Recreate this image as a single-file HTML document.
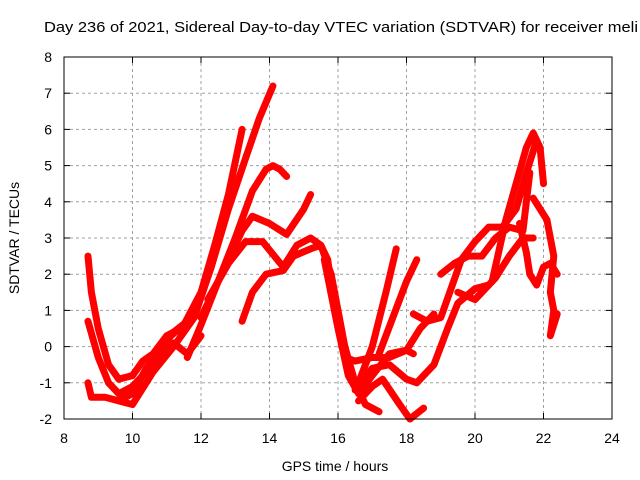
<!DOCTYPE html>
<html><head><meta charset="utf-8"><style>
body{margin:0;background:#fff;}
svg{display:block;font-family:"Liberation Sans",sans-serif;}
</style></head><body>
<svg id="chart" width="640" height="480" viewBox="0 0 640 480">
<rect width="640" height="480" fill="#fff"/>
<text x="44" y="32" font-size="15" textLength="594" lengthAdjust="spacingAndGlyphs">Day 236 of 2021, Sidereal Day-to-day VTEC variation (SDTVAR) for receiver meli</text>
<text x="335" y="471" font-size="14" text-anchor="middle">GPS time / hours</text>
<text x="0" y="0" font-size="14" text-anchor="middle" transform="translate(19,238) rotate(-90)">SDTVAR / TECUs</text>
<g id="grid"></g>
<g id="ticks"></g>
<g id="series"></g>
<rect x="64" y="57" width="548" height="362" fill="none" stroke="#000" stroke-width="1"/>
</svg>
<script>
const xTicks=[8,10,12,14,16,18,20,22,24];
const yTicks=[-2,-1,0,1,2,3,4,5,6,7,8];
const trackA=[[9.6,-1.5],[10,-1.6],[10.6,-0.7],[11.2,0],[11.8,0.8],[12.3,2.2],[12.8,3.8],[13.3,5.2],[13.7,6.3],[14.1,7.2]];
const trackB=[[10.5,-0.5],[11,0.2],[11.5,0.6],[12,1.5],[12.4,2.8],[12.8,4.2],[13.2,6.0]];
const trackC=[[11.6,-0.3],[12,0.6],[12.5,1.8],[13,3],[13.5,4.3],[13.9,4.9],[14.1,5.0],[14.3,4.9],[14.5,4.7]];
const trackD=[[12,0.8],[12.6,2],[13.2,3.2],[13.5,3.6],[14,3.4],[14.5,3.1],[15.0,3.8],[15.2,4.2]];
const trackE=[[12.2,1.3],[12.8,2.3],[13.3,2.9],[13.8,2.9],[14.4,2.2],[14.8,2.8],[15.2,3.0],[15.5,2.8],[15.8,2.0],[16.2,0],[16.5,-1.0],[16.8,-1.6],[17.2,-1.8]];
const trackF=[[13.2,0.7],[13.5,1.5],[13.9,2.0],[14.4,2.1],[14.7,2.5],[15.2,2.7],[15.5,2.8],[15.7,2.4],[15.9,1],[16.2,-0.3],[16.5,-0.4],[17,-0.3],[17.5,-0.3],[18,-0.1],[18.2,-0.2]];
const trackG=[[15.6,2.4],[16,0.5],[16.3,-0.8],[16.6,-1.3],[17,-0.8],[17.5,-0.2],[18,-0.1],[18.4,0.5],[18.8,0.9]];
const trackH=[[8.7,2.5],[8.8,1.5],[9,0.5],[9.3,-0.5],[9.6,-0.9],[10,-0.8],[10.3,-0.4],[10.6,-0.2],[11,0.3],[11.4,0.5]];
const trackI=[[8.7,0.7],[9,-0.3],[9.3,-1.0],[9.6,-1.3],[10,-1.1],[10.4,-0.7],[10.8,-0.4],[11.2,0.1],[11.6,-0.2],[12,0.3]];
const trackJ=[[8.7,-1.0],[8.8,-1.4],[9.2,-1.4],[9.6,-1.5],[10,-1.3],[10.4,-0.6],[10.8,-0.1],[11.2,0.4],[11.6,0.7]];
const trackK=[[16.6,-1.0],[17,0],[17.4,1.5],[17.7,2.7]];
const trackL=[[17.2,-0.2],[17.6,0.8],[18.0,1.8],[18.3,2.4]];
const trackM=[[16.6,-1.5],[17,-1.1],[17.3,-0.9],[17.8,-1.6],[18.1,-2.0],[18.5,-1.7]];
const trackN=[[16.5,-1.2],[17,-0.6],[17.5,-0.5],[18,-0.9],[18.3,-1.0],[18.8,-0.5],[19.2,0.5],[19.5,1.2],[20,1.6],[20.4,1.7]];
const trackO=[[18.2,0.9],[18.6,0.7],[19,0.8],[19.3,1.6],[19.6,2.4],[20,2.9],[20.4,3.3],[20.8,3.3],[21.2,3.8],[21.5,4.8],[21.8,5.7]];
const trackP=[[19,2],[19.4,2.3],[19.8,2.5],[20.2,2.5],[20.6,3],[21,3.3],[21.4,3.2],[21.6,4.8]];
const trackQ=[[19.5,1.5],[20,1.3],[20.6,1.9],[21,2.5],[21.4,3.0],[21.7,3.0]];
const trackR=[[20.5,1.8],[20.9,3.5],[21.2,4.5],[21.5,5.5],[21.7,5.9],[21.9,5.5],[22,4.5]];
const trackS=[[21.3,3.4],[21.5,2.6],[21.6,2.0],[21.8,1.7],[22,2.2],[22.2,2.3],[22.4,2.0]];
const trackT=[[21.7,4.1],[21.9,3.8],[22.1,3.5],[22.3,2.5],[22.2,1.5],[22.3,1],[22.2,0.3],[22.4,0.9]];
const tracks=[trackA,trackB,trackC,trackD,trackE,trackF,trackG,trackH,trackI,trackJ,trackK,trackL,trackM,trackN,trackO,trackP,trackQ,trackR,trackS,trackT];

const X0=64,X1=612,Y0=419,Y1=57;
function sx(h){return X0+(h-8)/(24-8)*(X1-X0);}
function sy(v){return Y0-(v+2)/(8+2)*(Y0-Y1);}
const NS="http://www.w3.org/2000/svg";
const grid=document.getElementById('grid'),ticks=document.getElementById('ticks'),ser=document.getElementById('series');
function mk(tag,attrs,parent){const e=document.createElementNS(NS,tag);for(const k in attrs)e.setAttribute(k,attrs[k]);parent.appendChild(e);return e;}
xTicks.forEach(t=>{
  const x=sx(t);
  if(t>8&&t<24){const g=mk('line',{x1:x,x2:x,y1:Y1,y2:Y0,stroke:'#a0a0a0','stroke-dasharray':'3,3'},grid);
  
  }
  mk('line',{x1:x,x2:x,y1:Y0,y2:Y0-6,stroke:'#000'},ticks);
  mk('line',{x1:x,x2:x,y1:Y1,y2:Y1+6,stroke:'#000'},ticks);
  const l=mk('text',{x:x,y:443,'font-size':14,'text-anchor':'middle'},ticks);
  l.textContent=t;
  
  
});
yTicks.forEach(t=>{
  const y=sy(t);
  if(t>-2&&t<8){const g=mk('line',{x1:X0,x2:X1,y1:y,y2:y,stroke:'#a0a0a0','stroke-dasharray':'3,3'},grid);
  
  }
  mk('line',{x1:X0,x2:X0+6,y1:y,y2:y,stroke:'#000'},ticks);
  mk('line',{x1:X1,x2:X1-6,y1:y,y2:y,stroke:'#000'},ticks);
  const l=mk('text',{x:52,y:y+5,'font-size':14,'text-anchor':'end'},ticks);
  l.textContent=t;
  
  
});
tracks.forEach(tr=>{
  const p=mk('polyline',{points:tr.map(d=>sx(d[0])+','+sy(d[1])).join(' '),fill:'none',stroke:'#ff0000','stroke-width':7,'stroke-linejoin':'round','stroke-linecap':'round'},ser);
  
  
});
</script>
</body></html>
